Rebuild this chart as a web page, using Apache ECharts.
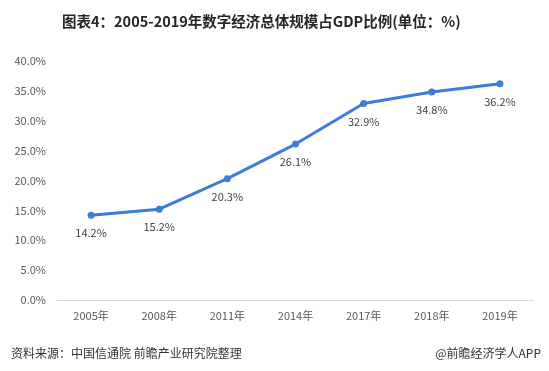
<!DOCTYPE html>
<html><head><meta charset="utf-8">
<script src="https://cdn.jsdelivr.net/npm/echarts@6/dist/echarts.min.js"></script>
<style>html,body{margin:0;padding:0;background:#fff}#c{width:549px;height:371px}</style>
</head><body><div id="c"></div>
<script>
const categories = ['2005年','2008年','2011年','2014年','2017年','2018年','2019年'];
const values = [14.2, 15.2, 20.3, 26.1, 32.9, 34.8, 36.2];
const titleText = '图表4：2005-2019年数字经济总体规模占GDP比例(单位：%)';
const sourceText = '资料来源：中国信通院 前瞻产业研究院整理';
const brandText = '@前瞻经济学人APP';

const chart = echarts.init(document.getElementById('c'));
chart.setOption({
  animation: false,
  textStyle: {fontFamily: '"Noto Sans CJK SC", "Microsoft YaHei", sans-serif'},
  title: [
    {text: titleText, left: 57, top: 9,
     textStyle: {fontSize: 14.5, fontWeight: 'bold', color: '#262626', fontFamily: '"Noto Sans CJK SC", sans-serif'}},
    {text: sourceText, left: 6, top: 342,
     textStyle: {fontSize: 12, fontWeight: 'normal', color: '#333'}},
    {text: brandText, right: 3, top: 342,
     textStyle: {fontSize: 12, fontWeight: 'normal', color: '#333'}}
  ],
  grid: {left: 57, right: 15, top: 61, bottom: 71},
  xAxis: {
    type: 'category', data: categories, boundaryGap: true,
    axisLine: {lineStyle: {color: '#d9d9d9'}},
    axisTick: {show: false},
    axisLabel: {color: '#595959', fontSize: 11, margin: 10}
  },
  yAxis: {
    type: 'value', min: 0, max: 40, interval: 5,
    axisLine: {show: false}, axisTick: {show: false},
    splitLine: {show: false},
    axisLabel: {color: '#595959', fontSize: 11, margin: 11,
      formatter: v => v.toFixed(1) + '%'}
  },
  series: [{
    type: 'line', data: values,
    lineStyle: {color: '#3b7dd8', width: 3},
    itemStyle: {color: '#3b7dd8'},
    symbol: 'circle', symbolSize: 7,
    label: {show: true, position: 'bottom', distance: 9, color: '#404040', fontSize: 11,
      formatter: p => p.value.toFixed(1) + '%'}
  }]
});
</script></body></html>
